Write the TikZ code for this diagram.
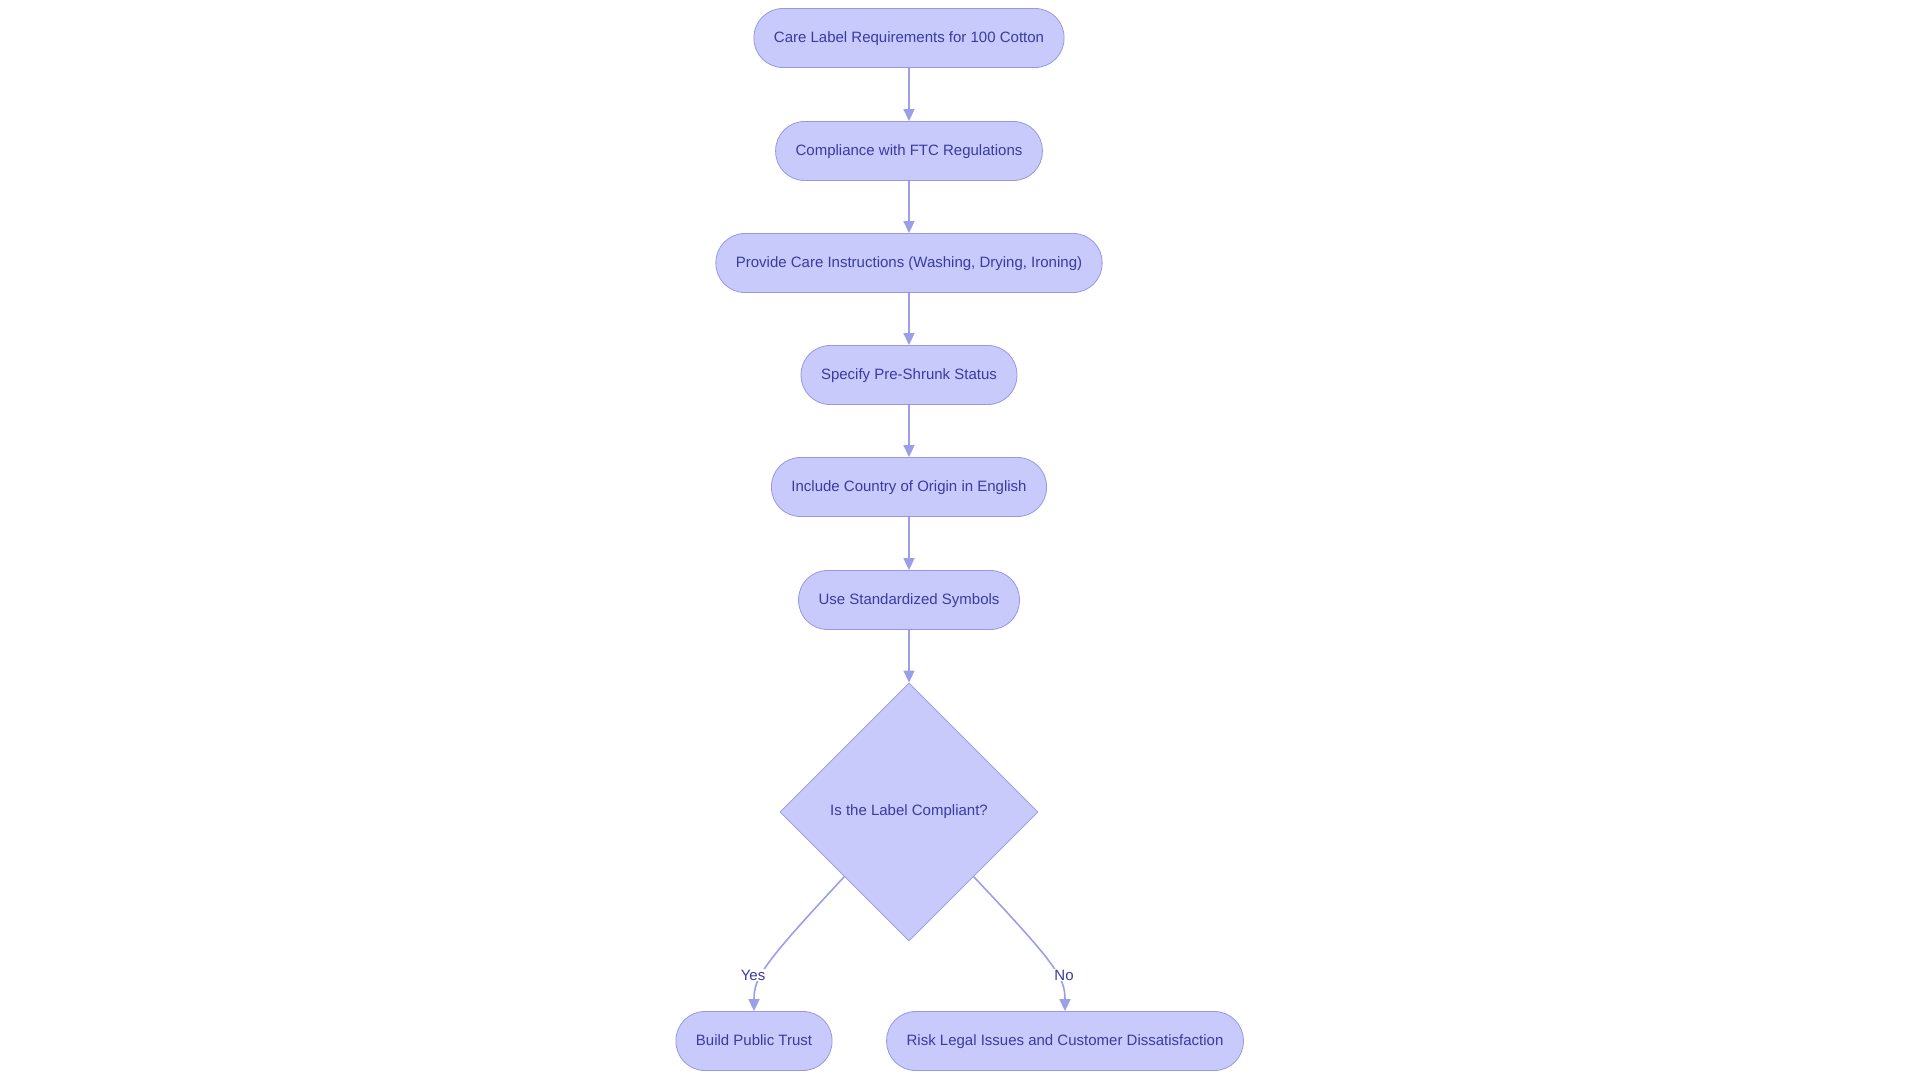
\documentclass[tikz,border=0pt]{standalone}
\usepackage{fontspec}
\setmainfont{Liberation Sans}
\usepackage{tikz}
\usetikzlibrary{arrows.meta,shapes.geometric}

\definecolor{boxfill}{RGB}{200,202,251}
\definecolor{boxline}{RGB}{150,152,228}
\definecolor{flowline}{RGB}{155,158,232}
\definecolor{boxtext}{RGB}{58,58,165}

\begin{document}
\begin{tikzpicture}[x=1pt, y=1pt, >={Triangle[length=12pt,width=11pt]},
    stadium/.style={rounded corners=29pt, draw=boxline, fill=boxfill, line width=0.8pt,
        minimum height=59pt, inner xsep=20pt, text=boxtext, text height=11pt, text depth=2pt,
        font=\fontsize{15}{18}\selectfont},
    decision/.style={diamond, aspect=1, draw=boxline, fill=boxfill, line width=0.8pt,
        minimum width=258pt, minimum height=258pt, text=boxtext, font=\fontsize{15}{18}\selectfont},
    flow/.style={->, draw=flowline, line width=1.6pt},
    answer/.style={fill=white, text=boxtext, inner sep=1pt, font=\fontsize{15}{18}\selectfont}]
    % page frame
    \useasboundingbox (0,0) rectangle (1920,-1083);

    % main column of steps
    \node[stadium] (req)     at (909,-38)  {Care Label Requirements for 100 Cotton};
    \node[stadium] (ftc)     at (909,-151) {Compliance with FTC Regulations};
    \node[stadium] (care)    at (909,-263) {Provide Care Instructions (Washing, Drying, Ironing)};
    \node[stadium] (shrunk)  at (909,-375) {Specify Pre-Shrunk Status};
    \node[stadium] (origin)  at (909,-487) {Include Country of Origin in English};
    \node[stadium] (symbols) at (909,-600) {Use Standardized Symbols};

    % decision
    \node[decision] (check) at (909,-812) {Is the Label Compliant?};

    % outcomes
    \node[stadium] (trust) at (754,-1041)  {Build Public Trust};
    \node[stadium] (risk)  at (1065,-1041) {Risk Legal Issues and Customer Dissatisfaction};

    % straight arrows
    \draw[flow] (req) -- (ftc);
    \draw[flow] (ftc) -- (care);
    \draw[flow] (care) -- (shrunk);
    \draw[flow] (shrunk) -- (origin);
    \draw[flow] (origin) -- (symbols);
    \draw[flow] (symbols) -- (check);

    % branches
    \draw[flow] (check.south west) .. controls (762,-965) and (754,-978) .. (trust.north);
    \draw[flow] (check.south east) .. controls (1057,-965) and (1065,-978) .. (risk.north);
    \node[answer] (yes) at (753,-975)  {Yes};
    \node[answer] (no)  at (1064,-975) {No};
\end{tikzpicture}
\end{document}
